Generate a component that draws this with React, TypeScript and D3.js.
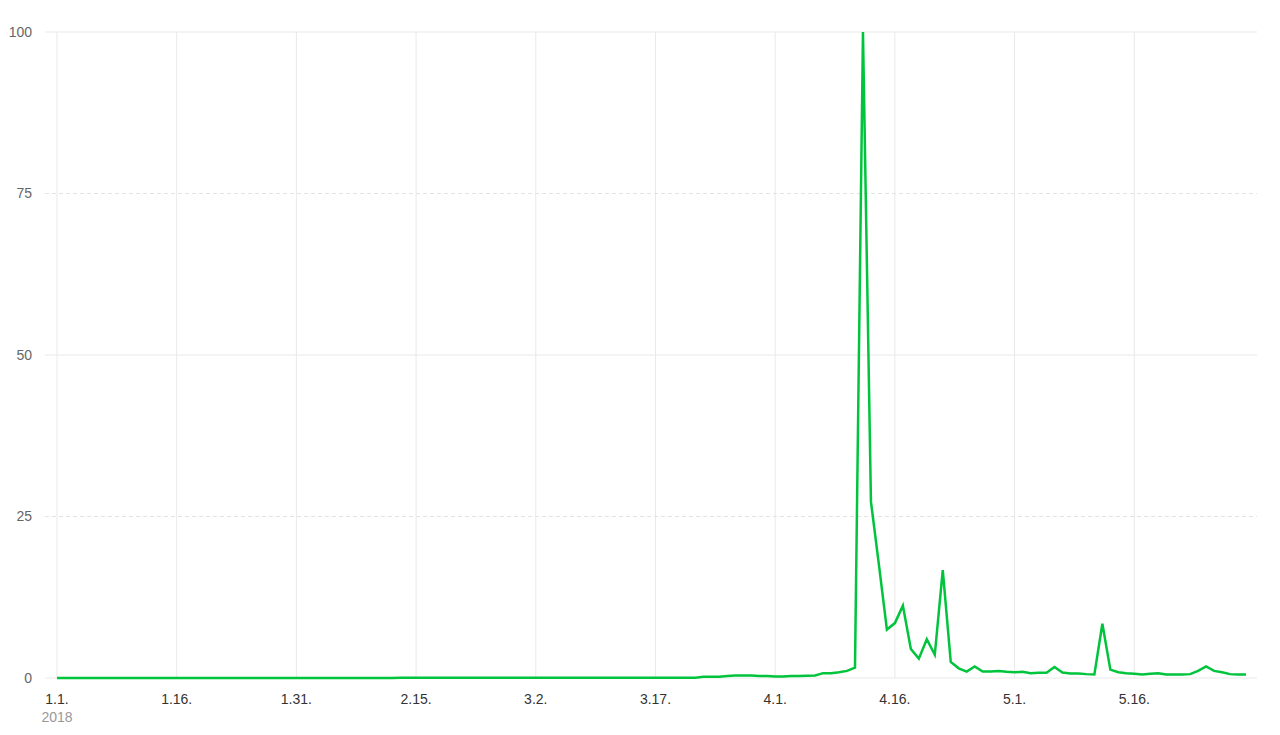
import * as d3 from 'd3';

// daily values from 2018-01-01
const startDate = new Date(2018, 0, 1);
const values: number[] = [
  0, 0, 0, 0, 0, 0, 0, 0, 0, 0,
  0, 0, 0, 0, 0, 0, 0, 0, 0, 0,
  0, 0, 0, 0, 0, 0, 0, 0, 0, 0,
  0, 0, 0, 0, 0, 0, 0, 0, 0, 0,
  0, 0, 0, 0.05, 0.05, 0.05, 0.05, 0.05, 0.05, 0.05,
  0.05, 0.03, 0.03, 0.03, 0.03, 0.03, 0.03, 0.03, 0.03, 0.03,
  0.03, 0.03, 0.03, 0.03, 0.03, 0.03, 0.03, 0.03, 0.03, 0.03,
  0.02, 0.02, 0.02, 0.02, 0.02, 0.02, 0.02, 0.02, 0.02, 0.02,
  0.05, 0.2, 0.2, 0.2, 0.3, 0.4, 0.4, 0.4, 0.3, 0.3,
  0.25, 0.25, 0.3, 0.3, 0.35, 0.4, 0.75, 0.75, 0.9, 1.1,
  1.6, 100, 27.3, 17.5, 7.5, 8.5, 11.2, 4.5, 3.0, 6.0,
  3.6, 16.7, 2.5, 1.5, 1.0, 1.8, 1.0, 1.0, 1.1, 0.95,
  0.9, 0.95, 0.75, 0.8, 0.8, 1.7, 0.85, 0.7, 0.7, 0.6,
  0.55, 8.4, 1.3, 0.9, 0.75, 0.65, 0.55, 0.65, 0.75, 0.55,
  0.55, 0.55, 0.6, 1.1, 1.8, 1.1, 0.9, 0.6, 0.55, 0.55,
];

const xTickOffsets = [0, 15, 30, 45, 60, 75, 90, 105, 120, 135];
const xTickLabels = ['1.1.', '1.16.', '1.31.', '2.15.', '3.2.', '3.17.', '4.1.', '4.16.', '5.1.', '5.16.'];
const yTicks = [0, 25, 50, 75, 100];
const dashedY = [25, 75];

const font = '"Liberation Sans", Arial, sans-serif';

export default function App() {
  const width = 1280;
  const height = 735;

  const dates = values.map((_, i) => d3.timeDay.offset(startDate, i));
  const x = d3.scaleTime()
    .domain([dates[0], dates[dates.length - 1]])
    .range([57, 1246]);
  const y = d3.scaleLinear().domain([0, 100]).range([678, 32]);

  const line = d3.line<number>()
    .x((_, i) => x(dates[i]))
    .y(d => y(d));

  return (
    <svg width={width} height={height} style={{ position: 'absolute', left: 0, top: 0, display: 'block' }}>
      <rect width={width} height={height} fill="#fff" />
      {/* vertical grid */}
      {xTickOffsets.map(o => {
        const px = x(d3.timeDay.offset(startDate, o));
        return <line key={'v' + o} x1={px} x2={px} y1={32} y2={678} stroke="#e9e9e9" strokeWidth={1} />;
      })}
      {/* horizontal grid */}
      {yTicks.map(t => (
        <line key={'h' + t} x1={45} x2={1257} y1={y(t)} y2={y(t)}
          stroke={dashedY.includes(t) ? '#e3e3e3' : '#e9e9e9'}
          strokeWidth={1}
          strokeDasharray={dashedY.includes(t) ? '4,3' : undefined} />
      ))}
      {yTicks.map(t => (
        <text key={'yl' + t} x={32} y={y(t)} dy="0.35em" textAnchor="end"
          fontFamily={font} fontSize={14} fill="#666">{t}</text>
      ))}
      {xTickOffsets.map((o, i) => (
        <text key={'xl' + o} x={x(d3.timeDay.offset(startDate, o))} y={704} textAnchor="middle"
          fontFamily={font} fontSize={14} fill="#333">{xTickLabels[i]}</text>
      ))}
      <text x={x(startDate)} y={722} textAnchor="middle" fontFamily={font} fontSize={14} fill="#999">2018</text>
      <path d={line(values) ?? ''} fill="none" stroke="#00c43c" strokeWidth={2.5} strokeLinejoin="miter" />
    </svg>
  );
}
